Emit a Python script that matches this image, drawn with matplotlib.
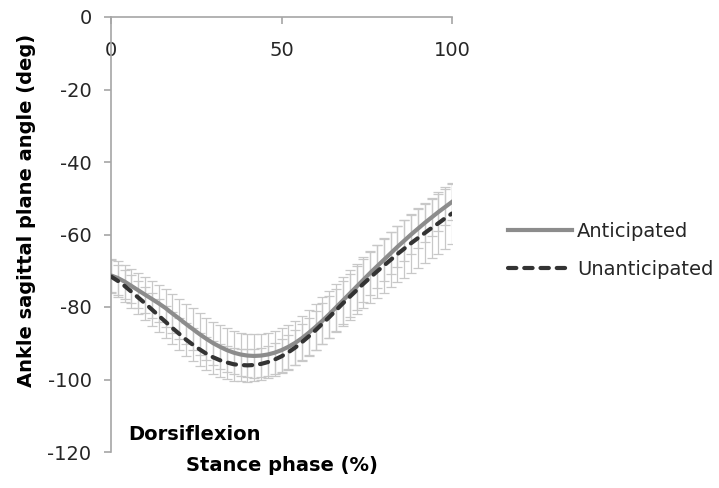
import matplotlib.pyplot as plt

plt.rcParams["axes.unicode_minus"] = False

# ===== DATA (every 2% of stance) =====
stance = list(range(0, 101, 2))

anticipated = [
    -71.3, -72.0, -73.0, -74.2, -75.4, -76.6, -77.8, -79.0, -80.3, -81.8,
    -83.2, -84.7, -86.1, -87.5, -88.8, -90.0, -91.0, -91.9, -92.6, -93.1,
    -93.4, -93.5, -93.4, -93.1, -92.6, -91.9, -91.0, -89.9, -88.6, -87.1,
    -85.5, -83.8, -82.0, -80.1, -78.2, -76.3, -74.4, -72.5, -70.6, -68.8,
    -67.0, -65.2, -63.4, -61.7, -60.0, -58.4, -56.8, -55.3, -53.8, -52.4,
    -51.0,
]
unanticipated = [
    -71.6, -72.8, -74.2, -75.8, -77.4, -79.0, -80.7, -82.4, -84.1, -85.8,
    -87.4, -89.0, -90.4, -91.7, -92.9, -93.9, -94.7, -95.3, -95.8, -96.0,
    -96.1, -96.0, -95.7, -95.2, -94.5, -93.6, -92.5, -91.2, -89.7, -88.1,
    -86.4, -84.6, -82.8, -80.9, -79.0, -77.2, -75.4, -73.6, -71.9, -70.2,
    -68.6, -67.0, -65.4, -63.9, -62.4, -61.0, -59.6, -58.2, -56.9, -55.5,
    -54.2,
]
sd_anticipated = [
    4.5, 4.6, 4.7, 4.8, 4.9, 5.0, 5.1, 5.2, 5.3, 5.4,
    5.5, 5.6, 5.7, 5.8, 5.9, 6.0, 6.0, 6.0, 6.0, 6.0,
    6.0, 6.0, 6.0, 6.0, 6.0, 6.0, 6.0, 6.1, 6.2, 6.3,
    6.4, 6.5, 6.5, 6.5, 6.5, 6.4, 6.3, 6.2, 6.1, 6.0,
    5.9, 5.8, 5.7, 5.6, 5.5, 5.4, 5.3, 5.2, 5.1, 5.0,
    5.0,
]
sd_unanticipated = [
    4.5, 4.5, 4.5, 4.5, 4.5, 4.5, 4.5, 4.5, 4.5, 4.5,
    4.5, 4.5, 4.5, 4.5, 4.5, 4.5, 4.5, 4.5, 4.5, 4.5,
    4.5, 4.5, 4.5, 4.5, 4.6, 4.7, 4.8, 4.9, 5.0, 5.2,
    5.4, 5.6, 5.8, 6.0, 6.2, 6.4, 6.6, 6.8, 7.0, 7.2,
    7.4, 7.6, 7.8, 8.0, 8.1, 8.2, 8.3, 8.4, 8.5, 8.5,
    8.5,
]

x_ticks = [0, 50, 100]
y_ticks = [0, -20, -40, -60, -80, -100, -120]

FS = 14
AXIS_GRAY = "#a6a6a6"
TEXT = "#262626"

fig = plt.figure(figsize=(7.19, 4.88), dpi=100)
ax = fig.add_axes([111 / 719, 1 - 452 / 488, 341 / 719, 435 / 488])

# ===== ERROR BARS =====
for mean, sd in ((anticipated, sd_anticipated), (unanticipated, sd_unanticipated)):
    ax.errorbar(stance, mean, yerr=sd, fmt="none", ecolor="#c8c8c8",
                elinewidth=0.9, capsize=3.5, capthick=0.9, zorder=1)

# ===== MEAN CURVES =====
ax.plot(stance, anticipated, color="#8c8c8c", lw=3, label="Anticipated", zorder=3)
ax.plot(stance, unanticipated, color="#333333", lw=3, dashes=(2.0, 1.9),
        dash_capstyle="round", label="Unanticipated", zorder=4)

# ===== AXES (excel style: x axis across the top at y = 0) =====
ax.set_xlim(0, 100)
ax.set_ylim(-120, 0)
ax.set_xticks(x_ticks)
ax.set_yticks(y_ticks)
ax.spines["bottom"].set_position(("data", 0))
ax.spines["top"].set_visible(False)
ax.spines["right"].set_visible(False)
for s in ("left", "bottom"):
    ax.spines[s].set_color(AXIS_GRAY)
    ax.spines[s].set_linewidth(1.2)

ax.tick_params(axis="x", direction="out", length=5, width=1.2, color=AXIS_GRAY,
               pad=12.5, labelsize=FS, labelcolor=TEXT)
ax.tick_params(axis="y", direction="out", length=5, width=1.2, color=AXIS_GRAY,
               pad=9, labelsize=FS, labelcolor=TEXT)

# ===== LABELS =====
fig.text(27 / 719, 1 - 210 / 488, "Ankle sagittal plane angle (deg)", rotation=90,
         ha="center", va="center", fontsize=FS, fontweight="bold", color="black")
ax.text(0.5, -0.032, "Stance phase (%)", transform=ax.transAxes, ha="center",
        va="center", fontsize=FS, fontweight="bold", color="black")
ax.text(5, -115.3, "Dorsiflexion", ha="left", va="center", fontsize=FS,
        fontweight="bold", color="black")

# ===== LEGEND =====
fig.legend(loc="center left", bbox_to_anchor=(508 / 719, 1 - 250.5 / 488),
           frameon=False, fontsize=FS, handlelength=3.3, handletextpad=0.25,
           labelspacing=1.0, borderpad=0, borderaxespad=0, labelcolor=TEXT)

fig.savefig("out.png", dpi=100)
